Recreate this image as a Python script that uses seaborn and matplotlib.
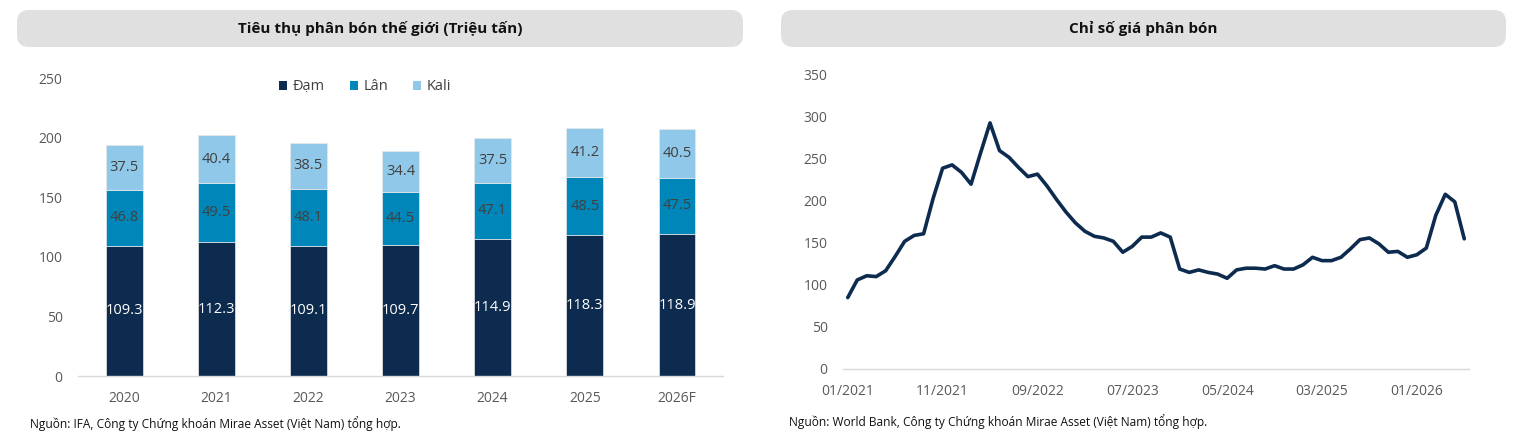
import numpy as np
import pandas as pd
import matplotlib
matplotlib.use("Agg")
import matplotlib.pyplot as plt
from matplotlib.patches import FancyBboxPatch, Patch
import seaborn as sns

# ---------------- data ----------------
years = ["2020", "2021", "2022", "2023", "2024", "2025", "2026F"]
dam = [109.3, 112.3, 109.1, 109.7, 114.9, 118.3, 118.9]
lan = [46.8, 49.5, 48.1, 44.5, 47.1, 48.5, 47.5]
kali = [37.5, 40.4, 38.5, 34.4, 37.5, 41.2, 40.5]
series_names = ["Đạm", "Lân", "Kali"]

price_index = [85, 106, 111, 110, 117, 134, 152, 159, 161, 203,
               239, 243, 234, 220, 257, 293, 260, 252, 240, 229,
               232, 218, 202, 187, 174, 164, 158, 156, 152, 139,
               146, 157, 157, 162, 157, 119, 115, 118, 115, 113,
               108, 118, 120, 120, 119, 123, 119, 119, 124, 133,
               129, 129, 133, 143, 154, 156, 149, 139, 140, 133,
               136, 144, 183, 208, 199, 155]
month_tick_labels = ["01/2021", "11/2021", "09/2022", "07/2023",
                     "05/2024", "03/2025", "01/2026"]

left_title = "Tiêu thụ phân bón thế giới (Triệu tấn)"
right_title = "Chỉ số giá phân bón"
left_source = "Nguồn: IFA, Công ty Chứng khoán Mirae Asset (Việt Nam) tổng hợp."
right_source = "Nguồn: World Bank, Công ty Chứng khoán Mirae Asset (Việt Nam) tổng hợp."

# ---------------- style ----------------
sns.set_theme(style="white")
plt.rcParams["font.family"] = ["Open Sans", "DejaVu Sans"]
C_DAM = "#0c2b4e"
C_LAN = "#0086b8"
C_KALI = "#8fc8e8"
TICK_C = "#595959"
LABEL_C = "#404040"
AXIS_C = "#d9d9d9"

fig = plt.figure(figsize=(15.16, 4.38), dpi=100)

# title boxes
for x0, w, title in [(17 / 1516, 726 / 1516, left_title),
                     (781 / 1516, 725 / 1516, right_title)]:
    box = FancyBboxPatch((x0, 391 / 438), w, 37 / 438,
                         boxstyle="round,pad=0,rounding_size=0.008",
                         transform=fig.transFigure, facecolor="#e0e0e0",
                         edgecolor="none", mutation_aspect=1516 / 438)
    fig.patches.append(box)
    fig.text(x0 + w / 2, 409.5 / 438, title, ha="center", va="center",
             fontsize=11, fontweight="bold", color="#111111")

# ---------------- left: stacked bars ----------------
axL = fig.add_axes([78 / 1516, 62 / 438, 645 / 1516, 298 / 438])
df = pd.DataFrame({"year": years, "Đạm": dam, "Lân": lan, "Kali": kali})
bottom_lan = np.array(dam)
bottom_kali = np.array(dam) + np.array(lan)

sns.barplot(data=df, x="year", y="Đạm", color=C_DAM, width=0.4, ax=axL,
            saturation=1, edgecolor="#e8e8e8", linewidth=0.5)
sns.barplot(data=df, x="year", y="Lân", color=C_LAN, width=0.4, ax=axL,
            saturation=1, edgecolor="#e8e8e8", linewidth=0.5, bottom=bottom_lan)
sns.barplot(data=df, x="year", y="Kali", color=C_KALI, width=0.4, ax=axL,
            saturation=1, edgecolor="#e8e8e8", linewidth=0.5, bottom=bottom_kali)

label_colors = ["white", LABEL_C, LABEL_C]
for cont, col in zip(axL.containers, label_colors):
    axL.bar_label(cont, labels=[f"{v:.1f}" for v in cont.datavalues],
                  label_type="center", color=col, fontsize=10.5)

axL.set_xlim(-0.5, 6.5)
axL.set_ylim(0, 250)
axL.set_yticks([0, 50, 100, 150, 200, 250])
axL.set_xlabel("")
axL.set_ylabel("")
for s in ["top", "right", "left"]:
    axL.spines[s].set_visible(False)
axL.spines["bottom"].set_color(AXIS_C)
axL.spines["bottom"].set_linewidth(1.0)
axL.tick_params(axis="both", length=0, labelsize=10, colors=TICK_C, pad=11)

handles = [Patch(facecolor=c, edgecolor="none") for c in (C_DAM, C_LAN, C_KALI)]
axL.legend(handles, series_names, loc="center", bbox_to_anchor=(0.445, 0.97),
           ncol=3, frameon=False, fontsize=10.5, handlelength=0.55,
           handleheight=0.55, handletextpad=0.4, columnspacing=1.7,
           labelcolor=LABEL_C)

fig.text(30 / 1516, 14 / 438, left_source, ha="left", va="center",
         fontsize=8.6, color="#111111")

# ---------------- right: line ----------------
axR = fig.add_axes([843 / 1516, 69 / 438, 626 / 1516, 294 / 438])
months = np.arange(len(price_index))
dfl = pd.DataFrame({"m": months, "v": price_index})
sns.lineplot(data=dfl, x="m", y="v", ax=axR, color=C_DAM, linewidth=2.6)
axR.set_xlim(-0.5, len(price_index) - 0.5)
axR.set_ylim(0, 350)
axR.set_yticks(np.arange(0, 351, 50))
axR.set_xticks(months[::10])
axR.set_xticklabels(month_tick_labels)
axR.set_xlabel("")
axR.set_ylabel("")
for s in ["top", "right", "left"]:
    axR.spines[s].set_visible(False)
axR.spines["bottom"].set_color(AXIS_C)
axR.spines["bottom"].set_linewidth(1.0)
axR.tick_params(axis="both", length=0, labelsize=10, colors=TICK_C, pad=11)

fig.text(789 / 1516, 16 / 438, right_source, ha="left", va="center",
         fontsize=8.6, color="#111111")

fig.savefig("out.png", dpi=100)
